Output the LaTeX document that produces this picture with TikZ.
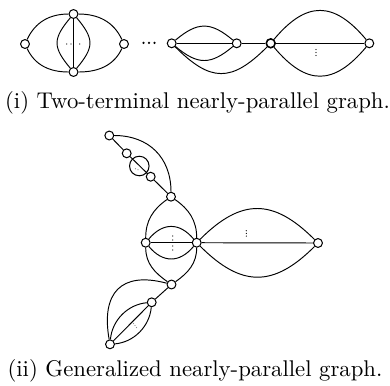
\documentclass[tikz,border=0pt]{standalone}
\usepackage{tikz}
\begin{document}
\begin{tikzpicture}[x=0.44pt,y=0.44pt,
  vtx/.style={circle,draw,fill=white,inner sep=0pt,minimum size=3.9pt,line width=0.45pt},
  ring/.style={circle,draw,inner sep=0pt,minimum size=8.6pt,line width=0.45pt},
  edge/.style={line width=0.42pt},
  dotmark/.style={fill=black},
  faintdot/.style={fill=black!45},
  caption/.style={anchor=base,inner sep=0pt}]
\useasboundingbox (0,0) rectangle (390,-385);
% ---------- (i) ----------
\node[vtx] (l1) at (25,-44) {};
\node[vtx] (t1) at (73.5,-14) {};
\node[vtx] (b1) at (73.5,-72) {};
\node[vtx] (r1) at (124,-44) {};
\node[vtx] (a) at (171.7,-43.3) {};
\node[vtx] (b) at (236.7,-43.3) {};
\node[vtx,line width=0.7pt] (c) at (270.7,-43.3) {};
\node[vtx] (d) at (369.3,-43.3) {};
\foreach \p in {(66.7,-44),(71,-44),(79.8,-44)} \fill[dotmark] \p circle (0.3pt);
\foreach \p in {(143.5,-42.8),(149,-42.8),(154.5,-42.8)} \fill[dotmark] \p circle (0.55pt);
\foreach \p in {(316,-49.5),(316,-52.5),(316,-55.5)} \fill[dotmark] \p circle (0.28pt);
\draw[edge] (l1) to[out=65,in=180] (t1);
\draw[edge] (l1) to[out=-65,in=180] (b1);
\draw[edge] (r1) to[out=115,in=0] (t1);
\draw[edge] (r1) to[out=-115,in=0] (b1);
\draw[edge] (t1) -- (b1);
\draw[edge] (t1) to[out=230,in=130,looseness=1.4] (b1);
\draw[edge] (t1) to[out=-50,in=50,looseness=1.4] (b1);
\draw[edge] (a) -- (b);
\draw[edge] (a) to[out=40,in=140,looseness=1.3] (b);
\draw[edge] (a) to[out=-40,in=-140,looseness=1.3] (b);
\draw[edge] (b) -- (c);
\draw[edge] (a) to[out=-45,in=225,looseness=1.4] (c);
\draw[edge] (c) -- (d);
\draw[edge] (c) to[out=50,in=130,looseness=1.4] (d);
\draw[edge] (c) to[out=-50,in=-130,looseness=1.4] (d);
\node[caption] (cap1) at (197.5,-108) {(i) Two-terminal nearly-parallel graph.};
% ---------- (ii) ----------
\node[vtx] (p1) at (109.3,-135.5) {};
\node[vtx] (p2) at (126.7,-153.3) {};
\node[ring] (o1) at (139.3,-166) {};
\node[vtx] (p3) at (150.7,-176.7) {};
\node[vtx] (p4) at (171,-196.7) {};
\node[vtx] (q1) at (145.7,-242.7) {};
\node[vtx] (q2) at (196.7,-242.7) {};
\node[vtx] (rr) at (318,-243) {};
\node[vtx] (p5) at (171.5,-284.5) {};
\node[vtx] (s1) at (151.7,-302.3) {};
\node[vtx] (s2) at (110,-344.3) {};
\foreach \p in {(135.5,-168.8),(138,-169.8)} \fill[faintdot] \p circle (0.25pt);
\foreach \p in {(133.5,-323.5),(135,-325.5),(136.5,-327.5)} \fill[faintdot] \p circle (0.25pt);
\foreach \p in {(172.7,-236),(172.7,-240),(172.7,-246),(172.7,-250)} \fill[dotmark] \p circle (0.3pt);
\foreach \p in {(246.3,-230.7),(246.3,-233.4),(246.3,-236.1)} \fill[dotmark] \p circle (0.28pt);
\draw[edge] (p1) to[out=0,in=90,looseness=1.1] (p4);
\draw[edge] (p1) -- (p2);
\draw[edge] (p2) -- (p3);
\draw[edge] (p3) -- (p4);
\draw[edge] (p4) to[out=215,in=90] (q1);
\draw[edge] (p4) to[out=-35,in=90] (q2);
\draw[edge] (q1) to[out=-90,in=145] (p5);
\draw[edge] (q2) to[out=-90,in=35] (p5);
\draw[edge] (q1) -- (q2);
\draw[edge] (q1) to[out=50,in=130,looseness=1.25] (q2);
\draw[edge] (q1) to[out=-50,in=-130,looseness=1.25] (q2);
\draw[edge] (q2) -- (rr);
\draw[edge] (q2) to[out=45,in=135,looseness=1.3] (rr);
\draw[edge] (q2) to[out=-45,in=-135,looseness=1.3] (rr);
\draw[edge] (p5) to[out=165,in=100,looseness=1.5] (s2);
\draw[edge] (p5) -- (s1);
\draw[edge] (s1) -- (s2);
\draw[edge] (s1) to[out=185,in=85,looseness=0.95] (s2);
\draw[edge] (s1) to[out=265,in=5,looseness=0.95] (s2);
\node[caption] (cap2) at (195,-376) {(ii) Generalized nearly-parallel graph.};
\end{tikzpicture}
\end{document}
